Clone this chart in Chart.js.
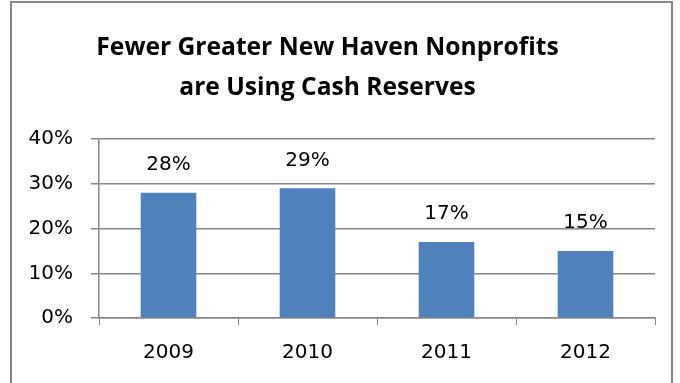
<!DOCTYPE html>
<html>
<head>
<meta charset="utf-8">
<script src="https://cdn.jsdelivr.net/npm/chart.js@4"></script>
<style>
  html, body { margin: 0; padding: 0; background: #fff; }
  #wrap { width: 680px; height: 383px; }
</style>
</head>
<body>
<div id="wrap"><canvas id="chart" width="680" height="383"></canvas></div>
<script>
// chart data
var years = ["2009", "2010", "2011", "2012"];
var shareUsingReserves = [28, 29, 17, 15];
var yTicks = [0, 10, 20, 30, 40];
var titleLines = ["Fewer Greater New Haven Nonprofits", "are Using Cash Reserves"];

var gray = "#868686";
var barBlue = "#4F81BD";

// outer frame like the spreadsheet chart border
var framePlugin = {
    id: "frame",
    beforeDraw: function(chart) {
        var ctx = chart.ctx;
        ctx.save();
        ctx.fillStyle = "#fff";
        ctx.fillRect(0, 0, chart.width, chart.height);
        ctx.strokeStyle = gray;
        ctx.lineWidth = 2;
        ctx.strokeRect(11, 2, 661, chart.height + 10);
        ctx.restore();
    }
};

// value labels above bars
var labelPlugin = {
    id: "barLabels",
    afterDatasetsDraw: function(chart) {
        var ctx = chart.ctx;
        var meta = chart.getDatasetMeta(0);
        ctx.save();
        ctx.font = "20px 'DejaVu Sans'";
        ctx.fillStyle = "#000";
        ctx.textAlign = "center";
        ctx.textBaseline = "middle";
        meta.data.forEach(function(bar, i) {
            ctx.fillText(shareUsingReserves[i] + "%", bar.x, bar.y - 28);
        });
        ctx.restore();
    }
};

new Chart(document.getElementById("chart"), {
    type: "bar",
    data: {
        labels: years,
        datasets: [{
            data: shareUsingReserves,
            backgroundColor: barBlue,
            barPercentage: 0.4,
            categoryPercentage: 1
        }]
    },
    options: {
        responsive: false,
        animation: false,
        layout: { padding: { left: 0, right: 25, top: 0, bottom: 0 } },
        plugins: {
            legend: { display: false },
            tooltip: { enabled: false },
            title: {
                display: true,
                text: titleLines,
                color: "#000",
                font: { family: "'Open Sans'", size: 24.6, weight: "bold", lineHeight: 1.63 },
                padding: { top: 28, bottom: 31 }
            }
        },
        scales: {
            x: {
                grid: { drawOnChartArea: false, color: gray, tickLength: 7, offset: true },
                border: { color: gray, width: 1.5 },
                ticks: { color: "#000", font: { family: "'DejaVu Sans'", size: 20 }, padding: 16 },
                afterFit: function(scale) { scale.height = 65; }
            },
            y: {
                min: 0,
                max: 40,
                afterBuildTicks: function(scale) {
                    scale.ticks = yTicks.map(function(v) { return { value: v }; });
                },
                grid: { color: gray, lineWidth: 1.5, tickLength: 8 },
                border: { color: gray, width: 1.5 },
                ticks: {
                    color: "#000",
                    font: { family: "'DejaVu Sans'", size: 20 },
                    padding: 18,
                    callback: function(v) { return v + "%"; }
                },
                afterFit: function(scale) { scale.width = 99; }
            }
        }
    },
    plugins: [framePlugin, labelPlugin]
});
</script>
</body>
</html>
